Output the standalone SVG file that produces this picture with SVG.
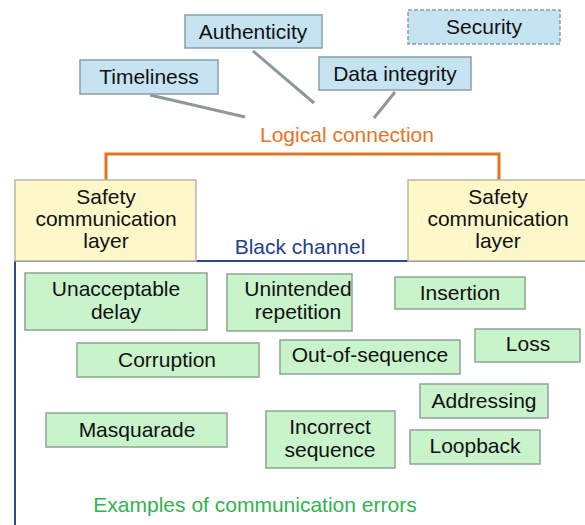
<svg xmlns="http://www.w3.org/2000/svg" width="585" height="525" viewBox="0 0 585 525">
<style>
text{font-family:"Liberation Sans",Arial,sans-serif;font-size:21px;fill:#111;text-anchor:middle}
.blue{fill:#c5e3f1;stroke:#8a9ea8;stroke-width:1.5}
.sec{fill:#c5e3f1;stroke:#8a9ea8;stroke-width:1.5;stroke-dasharray:4 2}
.yel{fill:#fdf7c9;stroke:#b8b8a8;stroke-width:1.5}
.grn{fill:#c8f3cb;stroke:#8fa592;stroke-width:1.5}
.conn{stroke:#8c989e;stroke-width:3;fill:none}
.orange{fill:#e8731f}
.bc{fill:#23408a}
.ex{fill:#2fb34c}
</style>
<rect width="585" height="525" fill="#ffffff"/>
<g id="connectors">
<line class="conn" x1="150" y1="95" x2="245" y2="117"/>
<line class="conn" x1="253" y1="51" x2="314" y2="103"/>
<line class="conn" x1="395" y1="92" x2="374" y2="118"/>
<polyline points="106,181 106,154 499,154 499,181" fill="none" stroke="#e8731f" stroke-width="3"/>
<polyline points="15,525 15,261 585,261" fill="none" stroke="#2f4a8c" stroke-width="2"/>
</g>
<g id="timeliness"><rect class="blue" x="80" y="60" width="138" height="34"/><text x="149" y="84">Timeliness</text></g>
<g id="authenticity"><rect class="blue" x="185" y="15" width="137" height="33"/><text x="253" y="39">Authenticity</text></g>
<g id="data-integrity"><rect class="blue" x="319" y="57" width="152" height="33"/><text x="395" y="81">Data integrity</text></g>
<g id="security"><rect class="sec" x="408" y="10" width="152" height="34"/><text x="484" y="34">Security</text></g>
<g id="logical-connection"><text class="orange" x="347" y="142">Logical connection</text></g>
<g id="safety-left"><rect class="yel" x="15" y="180" width="181" height="81"/><text x="106" y="204">Safety</text><text x="106" y="226">communication</text><text x="106" y="248">layer</text></g>
<g id="safety-right"><rect class="yel" x="408" y="180" width="180" height="81"/><text x="498" y="204">Safety</text><text x="498" y="226">communication</text><text x="498" y="248">layer</text></g>
<g id="black-channel"><text class="bc" x="300" y="254">Black channel</text></g>
<g id="unacceptable-delay"><rect class="grn" x="25" y="273" width="182" height="57"/><text x="116" y="296">Unacceptable</text><text x="116" y="319">delay</text></g>
<g id="unintended-repetition"><rect class="grn" x="227" y="274" width="125" height="57"/><text x="298" y="296">Unintended</text><text x="298" y="319">repetition</text></g>
<g id="insertion"><rect class="grn" x="395" y="277" width="130" height="32"/><text x="460" y="300">Insertion</text></g>
<g id="loss"><rect class="grn" x="475" y="329" width="105" height="33"/><text x="528" y="351">Loss</text></g>
<g id="corruption"><rect class="grn" x="77" y="343" width="182" height="34"/><text x="167" y="367">Corruption</text></g>
<g id="out-of-sequence"><rect class="grn" x="280" y="340" width="180" height="34"/><text x="370" y="362">Out-of-sequence</text></g>
<g id="addressing"><rect class="grn" x="420" y="384" width="128" height="34"/><text x="484" y="408">Addressing</text></g>
<g id="masquarade"><rect class="grn" x="46" y="413" width="181" height="34"/><text x="137" y="437">Masquarade</text></g>
<g id="incorrect-sequence"><rect class="grn" x="266" y="411" width="129" height="57"/><text x="330" y="434">Incorrect</text><text x="330" y="457">sequence</text></g>
<g id="loopback"><rect class="grn" x="410" y="430" width="130" height="34"/><text x="475" y="453">Loopback</text></g>
<g id="examples"><text class="ex" x="255" y="512">Examples of communication errors</text></g>
</svg>
